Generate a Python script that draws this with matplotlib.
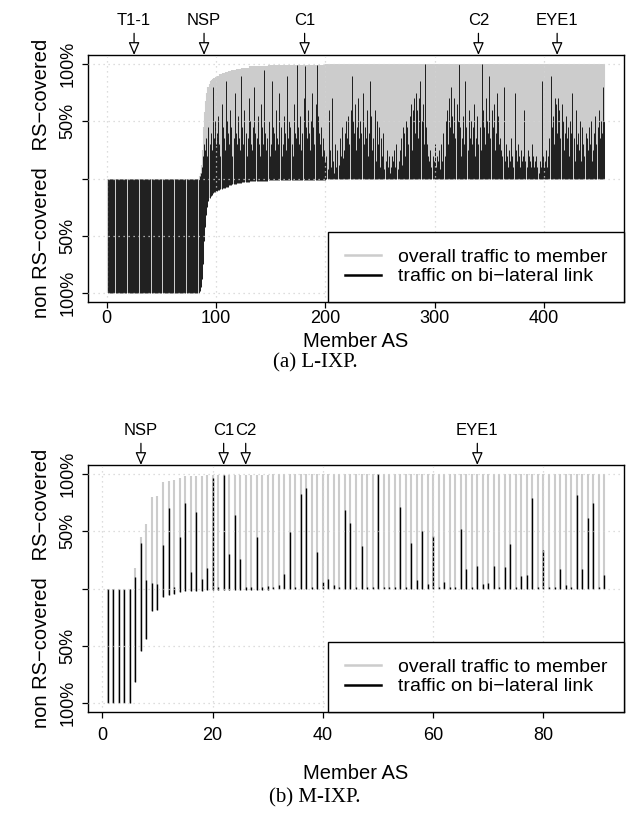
import numpy as np
import matplotlib
matplotlib.use("Agg")
import matplotlib.pyplot as plt
from matplotlib.lines import Line2D

plt.rcParams['font.family'] = ['Liberation Sans', 'DejaVu Sans']

# L-IXP: share of traffic that is RS-covered (gray top, %) and bi-lateral part (black top, %)
lixp_rs = ([0] * 84 +
           [2, 5, 12, 25, 45, 58, 68, 75, 80, 83, 85, 86, 87, 88, 88, 89,
            89, 90, 90, 91, 91, 92, 92, 92, 93, 93, 93, 94, 94, 94, 95, 95, 95, 95, 96, 96,
            96, 96, 96, 97, 97, 97, 97, 97, 97, 97, 98, 98, 98, 98, 98, 98, 98, 98, 98, 98,
            98, 98, 98, 98, 98, 98, 98, 99, 99, 99, 99, 99, 99, 99, 99, 99, 99, 99, 99, 99] +
           [99] * 40 + [100] * 255)
lixp_bl = ([0] * 84 +
           [2, 5, 10, 20, 30, 25, 35, 20, 45, 30, 40, 25, 80, 35, 50, 30,
            40, 55, 30, 20, 65, 45, 35, 25, 85, 50, 40, 30, 60, 45, 20, 35, 75, 40, 30, 55,
            35, 25, 90, 45, 30, 60, 40, 20, 35, 70, 50, 30, 25, 45, 80, 40, 35, 55, 30, 20,
            65, 45, 30, 95, 40, 25, 35, 50, 20, 30, 85, 45, 40, 25, 60, 35, 30, 75, 45, 20,
            30, 55, 40, 25, 90, 35, 50, 45, 30, 20, 65, 40, 35, 99, 45, 30, 55, 25, 40, 70,
            98, 45, 35, 60, 40, 25, 50, 75, 45, 30, 65, 99, 55, 40, 30, 45, 20, 35, 25, 15,
            20, 8, 60, 25, 10, 70, 15, 5, 30, 10, 25, 12, 35, 20, 45, 18, 25, 40, 50, 35,
            55, 30, 60, 90, 50, 40, 65, 25, 45, 70, 35, 50, 40, 75, 30, 45, 35, 60, 20, 40,
            85, 55, 25, 35, 60, 15, 50, 30, 45, 10, 35, 20, 40, 8, 15, 25, 10, 20, 5, 10,
            20, 15, 25, 10, 30, 8, 15, 25, 35, 12, 45, 40, 20, 50, 45, 30, 55, 65, 25, 60,
            70, 40, 75, 60, 35, 70, 85, 50, 65, 30, 100, 45, 30, 20, 15, 25, 10, 20, 15, 30,
            10, 20, 15, 25, 8, 30, 15, 40, 20, 50, 60, 30, 70, 45, 80, 55, 40, 70, 35, 65,
            50, 100, 45, 20, 35, 55, 30, 85, 45, 25, 60, 35, 50, 30, 45, 65, 20, 35, 55, 30,
            45, 25, 100, 60, 45, 30, 70, 50, 40, 90, 35, 60, 45, 65, 25, 40, 75, 55, 30, 35,
            25, 20, 80, 15, 30, 20, 10, 25, 15, 35, 20, 10, 75, 25, 15, 30, 20, 10, 25, 15,
            20, 60, 15, 10, 25, 20, 15, 10, 30, 20, 10, 15, 20, 10, 5, 15, 10, 85, 20, 10,
            15, 25, 10, 20, 35, 90, 45, 55, 30, 70, 65, 40, 70, 60, 35, 65, 50, 25, 40, 55,
            35, 45, 20, 50, 40, 75, 35, 15, 60, 30, 40, 25, 50, 15, 45, 30, 20, 40, 35, 25,
            45, 30, 50, 15, 25, 40, 55, 30, 45, 60, 35, 50, 40, 80, 50])
lixp_marks = {"T1-1": 25, "NSP": 89, "C1": 181, "C2": 340, "EYE1": 412}
lixp_xticks = [0, 100, 200, 300, 400]

# M-IXP
mixp_rs = [0, 0, 0, 0, 0, 18, 45, 56, 80, 81, 93, 94, 95, 97, 98, 98, 98, 98, 99, 99,
           99, 99, 99, 99, 99, 99, 99, 99, 99, 99, 100, 100, 100, 100, 100, 100, 100, 100, 100, 100,
           100, 100, 100, 100, 100, 100, 100, 100, 100, 100, 100, 100, 100, 100, 100, 100, 100, 100, 100, 100,
           100, 100, 100, 100, 100, 100, 100, 100, 100, 100, 100, 100, 100, 100, 100, 100, 100, 100, 100, 100,
           100, 100, 100, 100, 100, 100, 100, 100, 100, 100, 100]
mixp_bl = [0, 0, 0, 0, 0, 10, 40, 7, 5, 4, 38, 70, 1, 45, 75, 14, 67, 8, 18, 97,
           1, 99, 30, 64, 26, 1, 1, 45, 1, 2, 1, 3, 13, 49, 1, 83, 88, 1, 32, 6,
           8, 3, 1, 69, 57, 1, 37, 1, 1, 100, 1, 1, 1, 71, 1, 40, 7, 50, 4, 46,
           1, 6, 1, 1, 52, 17, 1, 20, 4, 5, 20, 1, 19, 39, 1, 11, 12, 79, 1, 34,
           1, 1, 17, 3, 1, 82, 17, 62, 75, 1, 12]
mixp_marks = {"NSP": 7, "C1": 22, "C2": 26, "EYE1": 68}
mixp_xticks = [0, 20, 40, 60, 80]

ylabels = ["100%", "50%", "", "50%", "100%"]
GRAY = "#cccccc"
W, H = 631, 817


def panel(ax, rs, bl, marks, xticks, black_lw, tick_pad, xlab_pad):
    n = len(rs)
    x = np.arange(1, n + 1)
    r = np.array(rs) / 100.0
    b = np.array(bl) / 100.0
    ax.vlines(x, -(1 - r), r, color=GRAY, lw=1.5, zorder=1)
    ax.vlines(x, -(1 - r), b, color="black", lw=black_lw, zorder=2)
    pad = 0.04 * (n - 1)
    ax.set_xlim(1 - pad, n + pad)
    ax.set_ylim(-1.08, 1.08)
    # dotted grid drawn on top, like R's grid()
    for t in xticks:
        ax.axvline(t, color="#d3d3d3", ls=(0, (1, 3)), lw=0.9, zorder=3)
    for t in [-1, -0.5, 0, 0.5, 1]:
        ax.axhline(t, color="#d3d3d3", ls=(0, (1, 3)), lw=0.9, zorder=3)
    ax.set_xticks(xticks)
    ax.set_yticks([1, 0.5, 0, -0.5, -1])
    ax.set_yticklabels(ylabels, rotation=90, va="center")
    ax.tick_params(labelsize=13, length=4.5, width=0.9, pad=4)
    ax.tick_params(axis="x", pad=tick_pad)
    ax.set_xlabel("Member AS", fontsize=14.5, labelpad=xlab_pad)
    ax.set_ylabel("non RS\u2212covered   RS\u2212covered", fontsize=14.5, labelpad=6)
    for s in ax.spines.values():
        s.set_linewidth(1.0)
    for name, m in marks.items():
        ax.annotate(name, xy=(m, 1), xycoords=("data", "axes fraction"),
                    xytext=(0, 25), textcoords="offset points",
                    ha="center", va="center", fontsize=12,
                    arrowprops=dict(arrowstyle="-|>,head_length=0.7,head_width=0.3",
                                    fc="white", ec="black", lw=0.9,
                                    mutation_scale=11, shrinkA=2, shrinkB=0))
    handles = [Line2D([], [], color=GRAY, lw=1.8), Line2D([], [], color="black", lw=1.8)]
    leg = ax.legend(handles, ["overall traffic to member", "traffic on bi\u2212lateral link"],
                    loc="lower right", borderaxespad=0, fancybox=False, framealpha=1,
                    edgecolor="black", fontsize=14, handlelength=1.9,
                    handletextpad=0.85, borderpad=0.85, labelspacing=0.1)
    leg.get_frame().set_linewidth(1.0)
    leg.set_zorder(5)


fig = plt.figure(figsize=(W / 100, H / 100), dpi=100)
ax1 = fig.add_axes([88 / W, 1 - 302 / H, (624 - 88) / W, (302 - 55) / H])
ax2 = fig.add_axes([88 / W, 1 - 712 / H, (624 - 88) / W, (712 - 465) / H])

panel(ax1, lixp_rs, lixp_bl, lixp_marks, lixp_xticks, 0.6, 1, 4)
panel(ax2, mixp_rs, mixp_bl, mixp_marks, mixp_xticks, 1.0, 6, 15)

fig.text(315 / W, 1 - 363 / H, "(a) L-IXP.", ha="center", va="center",
         family="Liberation Serif", fontsize=15)
fig.text(315 / W, 1 - 798 / H, "(b) M-IXP.", ha="center", va="center",
         family="Liberation Serif", fontsize=15)

fig.savefig("out.png", dpi=100)
